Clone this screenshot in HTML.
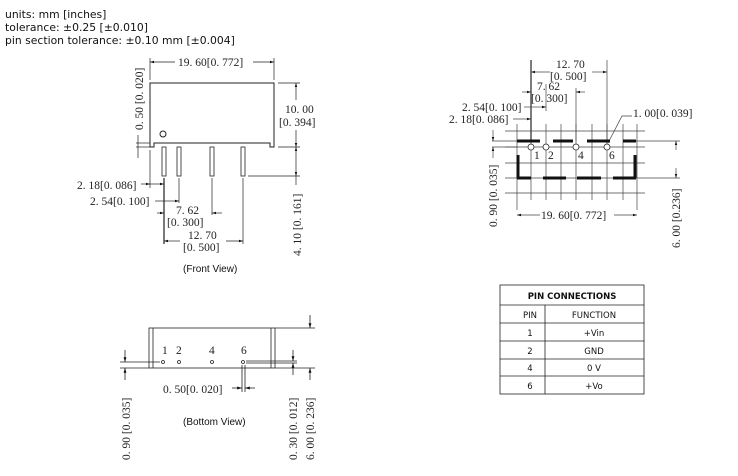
<!DOCTYPE html>
<html><head><meta charset="utf-8"><style>
html,body{margin:0;padding:0;background:#fff;}
svg{display:block;}
.d{font-family:"Liberation Serif",serif;font-size:11.5px;fill:#222;}
.h{font-family:"DejaVu Sans",sans-serif;font-size:10.8px;fill:#111;}
.s{font-family:"Liberation Sans",sans-serif;font-size:10px;fill:#111;}
.t{font-family:"DejaVu Sans",sans-serif;font-size:8.5px;fill:#111;}
</style></head><body>
<svg width="738" height="476" viewBox="0 0 738 476" xmlns="http://www.w3.org/2000/svg">
<defs>
<marker id="a" viewBox="0 0 10 10" refX="10" refY="5" markerWidth="6" markerHeight="6" orient="auto-start-reverse"><path d="M0,2 L10,5 L0,8z" fill="#111"/></marker>
</defs>
<text class="h" x="5" y="18">units: mm [inches]</text>
<text class="h" x="5" y="31">tolerance: ±0.25 [±0.010]</text>
<text class="h" x="5" y="44">pin section tolerance: ±0.10 mm [±0.004]</text>

<!-- FRONT VIEW -->
<g stroke="#222" fill="none" stroke-width="1">
<path d="M150,83 H274 V147 H270 V143 H154 V147 H150 Z"/>
<rect x="162" y="147" width="4" height="29" stroke-width="0.8"/>
<rect x="177" y="147" width="4" height="29" stroke-width="0.8"/>
<rect x="210" y="147" width="4" height="29" stroke-width="0.8"/>
<rect x="241" y="147" width="4" height="29" stroke-width="0.8"/>
<line x1="150" y1="80" x2="150" y2="58" stroke-width="0.7"/>
<line x1="274" y1="80" x2="274" y2="58" stroke-width="0.7"/>
<line x1="150" y1="62" x2="175" y2="62" marker-start="url(#a)" stroke-width="0.7"/>
<line x1="253" y1="62" x2="274" y2="62" marker-end="url(#a)" stroke-width="0.7"/>
<line x1="278" y1="83" x2="300" y2="83" stroke-width="0.7"/>
<line x1="278" y1="147" x2="300" y2="147" stroke-width="0.7"/>
<line x1="248" y1="176" x2="300" y2="176" stroke-width="0.7"/>
<line x1="296" y1="100" x2="296" y2="83" marker-end="url(#a)" stroke-width="0.7"/>
<line x1="296" y1="130" x2="296" y2="147" marker-end="url(#a)" stroke-width="0.7"/>
<line x1="296" y1="147" x2="296" y2="176" marker-start="url(#a)" marker-end="url(#a)" stroke-width="0.7"/>
<line x1="296" y1="176" x2="296" y2="185" stroke-width="0.7"/>
<line x1="136" y1="147" x2="150" y2="147" stroke-width="0.7"/>
<line x1="136" y1="143" x2="150" y2="143" stroke-width="0.7"/>
<line x1="138" y1="135" x2="138" y2="158" stroke-width="0.7"/>
<line x1="150" y1="150" x2="150" y2="188" stroke-width="0.7"/>
<line x1="164" y1="178" x2="164" y2="244" stroke-width="1.2"/>
<line x1="179" y1="178" x2="179" y2="203" stroke-width="0.7"/>
<line x1="212" y1="178" x2="212" y2="215" stroke-width="0.7"/>
<line x1="243" y1="178" x2="243" y2="244" stroke-width="0.7"/>
<line x1="141" y1="184" x2="150" y2="184" marker-end="url(#a)" stroke-width="0.7"/>
<line x1="150" y1="184" x2="164" y2="184" marker-end="url(#a)" stroke-width="0.7"/>
<line x1="155" y1="201" x2="164" y2="201" stroke-width="0.7"/>
<line x1="164" y1="201" x2="179" y2="201" marker-end="url(#a)" stroke-width="0.7"/>
<line x1="157" y1="213" x2="164" y2="213" marker-end="url(#a)" stroke-width="0.7"/>
<line x1="222" y1="213" x2="212" y2="213" marker-end="url(#a)" stroke-width="0.7"/>
<line x1="164" y1="241" x2="180" y2="241" marker-start="url(#a)" stroke-width="0.7"/>
<line x1="226" y1="241" x2="243" y2="241" marker-end="url(#a)" stroke-width="0.7"/>
</g>
<circle cx="163" cy="134" r="3" fill="none" stroke="#222"/>
<text class="d" x="178" y="66">19. 60[0. 772]</text>
<text class="d" x="285" y="113">10. 00</text>
<text class="d" x="279" y="126">[0. 394]</text>
<text class="d" transform="translate(143,130) rotate(-90)">0. 50 [0. 020]</text>
<text class="d" transform="translate(301,256) rotate(-90)">4. 10  [0. 161]</text>
<text class="d" x="77" y="189">2. 18[0. 086]</text>
<text class="d" x="90" y="205">2. 54[0. 100]</text>
<text class="d" x="176" y="214">7. 62</text>
<text class="d" x="167" y="226">[0. 300]</text>
<text class="d" x="188" y="239">12. 70</text>
<text class="d" x="183" y="251">[0. 500]</text>
<text class="s" x="183" y="272">(Front View)</text>

<!-- TOP-RIGHT VIEW -->
<g stroke="#444" stroke-width="0.7" fill="none">
<line x1="517" y1="124" x2="517" y2="210"/><line x1="531" y1="124" x2="531" y2="200"/>
<line x1="546" y1="124" x2="546" y2="200"/><line x1="561" y1="124" x2="561" y2="200"/>
<line x1="576" y1="124" x2="576" y2="200"/><line x1="592" y1="124" x2="592" y2="200"/>
<line x1="607" y1="124" x2="607" y2="200"/><line x1="623" y1="124" x2="623" y2="200"/>
<line x1="637" y1="124" x2="637" y2="210"/>
<line x1="505" y1="131" x2="645" y2="131"/><line x1="505" y1="147" x2="645" y2="147"/>
<line x1="505" y1="163" x2="645" y2="163"/><line x1="505" y1="178" x2="680" y2="178"/>
<line x1="505" y1="193" x2="645" y2="193"/>
<line x1="636" y1="141" x2="680" y2="141"/>
<line x1="531" y1="60" x2="531" y2="141" stroke-width="1.4"/>
<line x1="607" y1="60" x2="607" y2="141"/>
<line x1="546" y1="84" x2="546" y2="111"/>
<line x1="576" y1="88" x2="576" y2="141"/>
<line x1="531" y1="72" x2="550" y2="72" marker-start="url(#a)"/>
<line x1="592" y1="72" x2="607" y2="72" marker-end="url(#a)"/>
<line x1="522" y1="92" x2="531" y2="92" marker-end="url(#a)"/>
<line x1="585" y1="92" x2="576" y2="92" marker-end="url(#a)"/>
<line x1="524" y1="107" x2="531" y2="107"/>
<line x1="531" y1="107" x2="546" y2="107" marker-end="url(#a)"/>
<line x1="513" y1="119" x2="531" y2="119" marker-end="url(#a)"/>
<line x1="676" y1="150" x2="676" y2="141" marker-end="url(#a)"/>
<line x1="676" y1="168" x2="676" y2="178" marker-end="url(#a)"/>
<line x1="492" y1="141" x2="517" y2="141"/><line x1="492" y1="147" x2="517" y2="147"/>
<line x1="493" y1="130" x2="493" y2="141" marker-end="url(#a)"/>
<line x1="493" y1="158" x2="493" y2="147" marker-end="url(#a)"/>
<line x1="517" y1="215" x2="540" y2="215" marker-start="url(#a)"/>
<line x1="614" y1="215" x2="637" y2="215" marker-end="url(#a)"/>
<path d="M608,143 L622,116 H632"/>
</g>
<g stroke="#111" stroke-width="3" fill="none">
<line x1="517" y1="141" x2="540" y2="141"/><line x1="553" y1="141" x2="573" y2="141"/>
<line x1="587" y1="141" x2="610" y2="141"/><line x1="623" y1="141" x2="636" y2="141"/>
<line x1="517" y1="178" x2="531" y2="178"/><line x1="543" y1="178" x2="566" y2="178"/>
<line x1="577" y1="178" x2="601" y2="178"/><line x1="613" y1="178" x2="636" y2="178"/>
<line x1="518" y1="155" x2="518" y2="178"/><line x1="635" y1="155" x2="635" y2="178"/>
</g>
<g fill="#fff" stroke="#222" stroke-width="0.8">
<circle cx="531" cy="147" r="3"/><circle cx="546" cy="147" r="3"/>
<circle cx="576" cy="147" r="3"/><circle cx="607" cy="147" r="3"/>
</g>
<text class="d" x="534" y="159">1</text><text class="d" x="548" y="159">2</text>
<text class="d" x="578" y="159">4</text><text class="d" x="609" y="159">6</text>
<text class="d" x="556" y="68">12. 70</text>
<text class="d" x="550" y="80">[0. 500]</text>
<text class="d" x="537" y="90">7. 62</text>
<text class="d" x="531" y="102">[0. 300]</text>
<text class="d" x="462" y="111">2. 54[0. 100]</text>
<text class="d" x="449" y="123">2. 18[0. 086]</text>
<text class="d" x="633" y="117">1. 00[0. 039]</text>
<text class="d" x="541" y="219">19. 60[0. 772]</text>
<text class="d" transform="translate(497,227) rotate(-90)">0. 90  [0. 035]</text>
<text class="d" transform="translate(680,248) rotate(-90)">6. 00 [0.236]</text>

<!-- BOTTOM VIEW -->
<g stroke="#222" stroke-width="0.8" fill="none">
<rect x="149" y="328" width="126" height="40"/>
<line x1="153" y1="328" x2="153" y2="368"/><line x1="271" y1="328" x2="271" y2="368"/>
<line x1="275" y1="328" x2="315" y2="328"/>
<line x1="275" y1="368" x2="315" y2="368"/>
<line x1="120" y1="368" x2="149" y2="368"/>
<line x1="120" y1="362" x2="160" y2="362"/>
<line x1="246" y1="361" x2="297" y2="361"/><line x1="246" y1="363" x2="297" y2="363"/>
<line x1="310" y1="315" x2="310" y2="328" marker-end="url(#a)"/>
<line x1="310" y1="380" x2="310" y2="368" marker-end="url(#a)"/>
<line x1="293" y1="350" x2="293" y2="361" marker-end="url(#a)"/>
<line x1="293" y1="375" x2="293" y2="363" marker-end="url(#a)"/>
<line x1="125" y1="350" x2="125" y2="362" marker-end="url(#a)"/>
<line x1="125" y1="380" x2="125" y2="368" marker-end="url(#a)"/>
<line x1="242" y1="365" x2="242" y2="392"/><line x1="245" y1="365" x2="245" y2="392"/>
<line x1="232" y1="388" x2="242" y2="388" marker-end="url(#a)"/>
<line x1="255" y1="388" x2="245" y2="388" marker-end="url(#a)"/>
</g>
<g fill="none" stroke="#222" stroke-width="0.8">
<circle cx="163" cy="362" r="1.5"/><circle cx="179" cy="362" r="1.5"/>
<circle cx="212" cy="362" r="1.5"/><circle cx="243" cy="362" r="1.5"/>
</g>
<text class="d" x="162" y="354">1</text><text class="d" x="176" y="354">2</text>
<text class="d" x="209" y="354">4</text><text class="d" x="241" y="354">6</text>
<text class="d" x="163" y="393">0. 50[0. 020]</text>
<text class="s" x="183" y="425">(Bottom View)</text>
<text class="d" transform="translate(130,460) rotate(-90)">0. 90  [0. 035]</text>
<text class="d" transform="translate(297,460) rotate(-90)">0. 30  [0. 012]</text>
<text class="d" transform="translate(314,460) rotate(-90)">6. 00  [0. 236]</text>

<!-- TABLE -->
<g stroke="#222" stroke-width="0.8" fill="none">
<rect x="500" y="285" width="144" height="109"/>
<line x1="500" y1="305" x2="644" y2="305"/>
<line x1="500" y1="323" x2="644" y2="323"/>
<line x1="500" y1="341" x2="644" y2="341"/>
<line x1="500" y1="359" x2="644" y2="359"/>
<line x1="500" y1="376" x2="644" y2="376"/>
<line x1="545" y1="305" x2="545" y2="394"/>
</g>
<text class="t" x="572" y="299" text-anchor="middle" font-weight="bold">PIN CONNECTIONS</text>
<text class="t" x="530" y="318" text-anchor="middle">PIN</text>
<text class="t" x="594" y="318" text-anchor="middle">FUNCTION</text>
<text class="t" x="530" y="336" text-anchor="middle">1</text><text class="t" x="594" y="336" text-anchor="middle">+Vin</text>
<text class="t" x="530" y="354" text-anchor="middle">2</text><text class="t" x="594" y="354" text-anchor="middle">GND</text>
<text class="t" x="530" y="371" text-anchor="middle">4</text><text class="t" x="594" y="371" text-anchor="middle">0 V</text>
<text class="t" x="530" y="389" text-anchor="middle">6</text><text class="t" x="594" y="389" text-anchor="middle">+Vo</text>
</svg>
</body></html>
